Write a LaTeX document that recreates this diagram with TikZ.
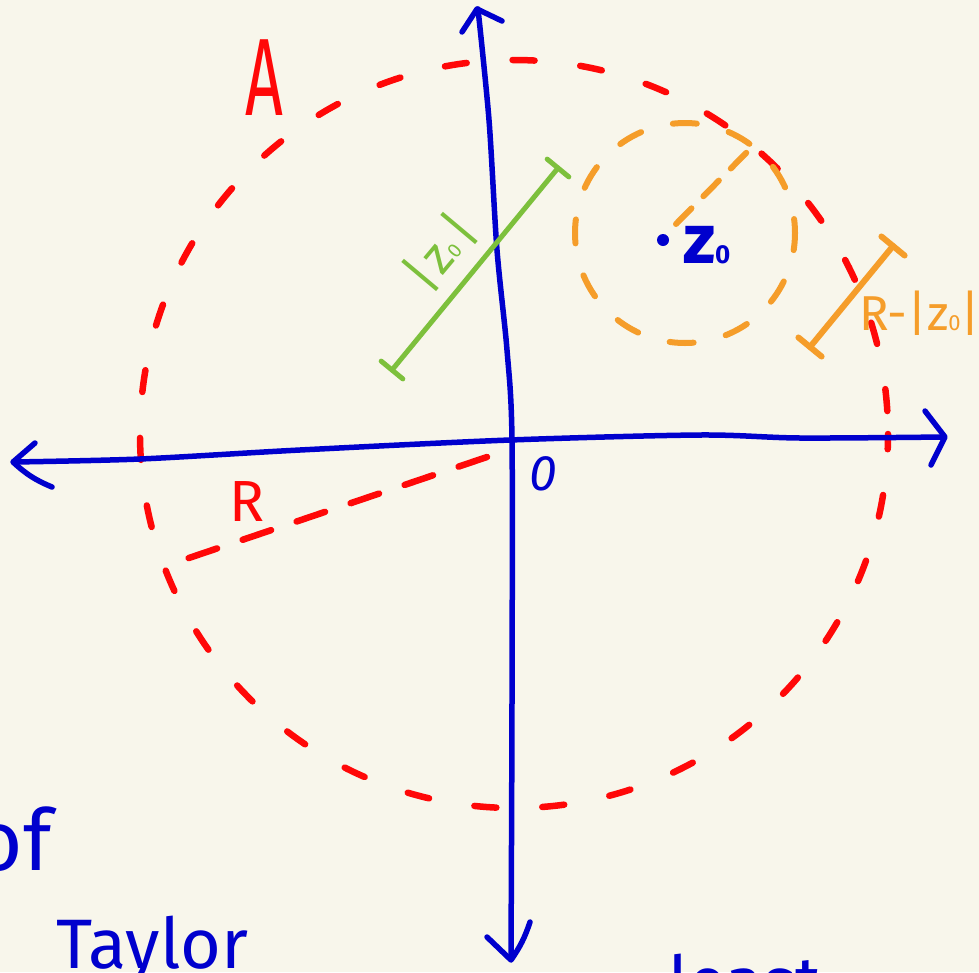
\documentclass[tikz,border=0pt]{standalone}
\usepackage{fontspec}
\setmainfont{Fira Sans}
\usetikzlibrary{calc}
\definecolor{bg}{RGB}{248,246,235}
\definecolor{penred}{RGB}{255,8,8}
\definecolor{penblue}{RGB}{0,0,205}
\definecolor{pengreen}{RGB}{125,192,60}
\definecolor{penorange}{RGB}{245,157,42}
\tikzset{
  pen/.style={line width=6pt, line cap=round, line join=round},
  bluepen/.style={pen, draw=penblue, line width=5.5pt},
  redpen/.style={pen, draw=penred, line width=6.5pt},
  greenpen/.style={pen, draw=pengreen, line width=5pt},
  orangepen/.style={pen, draw=penorange},
  lbl/.style={inner sep=0pt, outer sep=0pt},
}
\newcommand{\fs}[1]{\fontsize{#1}{#1}\selectfont}
\begin{document}
\begin{tikzpicture}[x=1pt,y=-1pt]
\useasboundingbox (0,0) rectangle (979,972);
\fill[bg] (0,0) rectangle (979,972);
\clip (0,0) rectangle (979,972);

% big red dashed circle A
\coordinate (O) at (514,434);
\draw[redpen, dash pattern=on 22pt off 46pt, dash phase=45pt] (O) circle[radius=374pt];

% orange dashed circle around z0
\coordinate (C) at (685,233);
\draw[orangepen, dash pattern=on 24pt off 33pt, dash phase=10pt] (C) circle[radius=110pt];

% axes
\draw[bluepen] plot[smooth] coordinates {(14,462) (140,459) (300,450) (510,440) (700,435) (800,438) (943,437)};
\draw[bluepen] (35,443) -- (13,462) to[bend right=10] (52,487);
\draw[bluepen] (925,411) -- (945,437) -- (931,465);
\draw[bluepen] plot[smooth] coordinates {(478,9) (489,120) (497,250) (507,350) (512,440) (512,700) (511,958)};
\draw[bluepen] (462,32) -- (477,9) -- (502,21);
\draw[bluepen] (487,937) -- (511,960) to[bend right=8] (530,922);

% red radius R
\coordinate (r1) at (487,457);
\coordinate (r2) at (180,561);
\draw[redpen, dash pattern=on 30pt off 27pt] (r1) -- (r2);
\node[lbl, text=penred, font=\fs{58}, anchor=base] (Rlab) at (247,521) {R};
\node[lbl, text=penred, font=\fs{110}, xscale=0.6, anchor=base] (Alab) at (264,115) {A};

% origin label
\node[lbl, text=penblue, font=\itshape\fs{50}, anchor=base] (zero) at (543,490) {0};

% z0
\fill[penblue] (663,240) circle[radius=6pt];
\node[lbl, text=penblue, font=\bfseries\fs{70}, anchor=base west] (z0) at (683,263) {z{\fs{26}0}};

% orange radius of small circle
\coordinate (s1) at (676,224);
\coordinate (s2) at (752,147);
\draw[orangepen, dash pattern=on 22pt off 17pt] (s1) -- (s2);

% green |z0| dimension
\coordinate (g1) at (392,370);
\coordinate (g2) at (558,168);
\draw[greenpen] (g1) -- (g2);
\draw[greenpen] ($(g1)!14pt!90:(g2)$) -- ($(g1)!14pt!-90:(g2)$);
\draw[greenpen] ($(g2)!14pt!90:(g1)$) -- ($(g2)!14pt!-90:(g1)$);
\node[lbl, text=pengreen, font=\fs{50}, rotate=50] (glab) at (440,252) {|\kern3pt z\kern1pt{\fs{20}0}\kern4pt|};

% orange R-|z0| dimension
\coordinate (o1) at (810,347);
\coordinate (o2) at (893,246);
\draw[orangepen] (o1) -- (o2);
\draw[orangepen] ($(o1)!15pt!90:(o2)$) -- ($(o1)!15pt!-90:(o2)$);
\draw[orangepen] ($(o2)!15pt!90:(o1)$) -- ($(o2)!15pt!-90:(o1)$);
\node[lbl, text=penorange, font=\fs{49}, anchor=base west] (olab) at (859,330) {R-|z{\fs{22}0}|};

% partial bottom text
\node[lbl, text=penblue, font=\fs{85}, anchor=base east] (of) at (52,870) {of};
\node[lbl, text=penblue, font=\fs{70}, anchor=base west] (taylor) at (56,968) {Taylor};
\node[lbl, text=penblue, font=\fs{70}, anchor=base west] (least) at (668,1006) {least};
\end{tikzpicture}
\end{document}
